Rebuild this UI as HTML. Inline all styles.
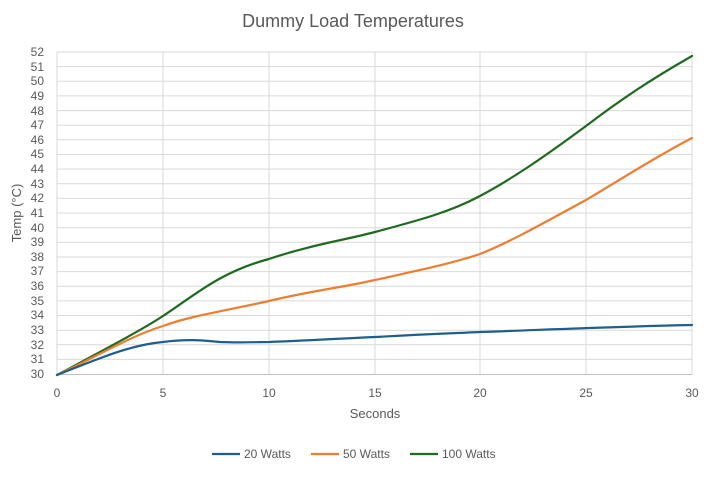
<!DOCTYPE html>
<html><head><meta charset="utf-8"><style>
body{margin:0;background:#fff;}
svg text{font-family:"Liberation Sans",sans-serif;fill:#595959;}
</style></head><body>
<svg width="706" height="472" viewBox="0 0 706 472" xmlns="http://www.w3.org/2000/svg">
<rect width="706" height="472" fill="#fff"/>
<text x="353" y="27" font-size="18" text-anchor="middle">Dummy Load Temperatures</text>
<g stroke="#d9d9d9" stroke-width="1">
<line x1="57" y1="52" x2="692" y2="52"/><line x1="57" y1="66.6" x2="692" y2="66.6"/><line x1="57" y1="81.3" x2="692" y2="81.3"/><line x1="57" y1="95.9" x2="692" y2="95.9"/><line x1="57" y1="110.6" x2="692" y2="110.6"/><line x1="57" y1="125.2" x2="692" y2="125.2"/><line x1="57" y1="139.8" x2="692" y2="139.8"/><line x1="57" y1="154.5" x2="692" y2="154.5"/><line x1="57" y1="169.1" x2="692" y2="169.1"/><line x1="57" y1="183.8" x2="692" y2="183.8"/><line x1="57" y1="198.4" x2="692" y2="198.4"/><line x1="57" y1="213" x2="692" y2="213"/><line x1="57" y1="227.7" x2="692" y2="227.7"/><line x1="57" y1="242.3" x2="692" y2="242.3"/><line x1="57" y1="257" x2="692" y2="257"/><line x1="57" y1="271.6" x2="692" y2="271.6"/><line x1="57" y1="286.2" x2="692" y2="286.2"/><line x1="57" y1="300.9" x2="692" y2="300.9"/><line x1="57" y1="315.5" x2="692" y2="315.5"/><line x1="57" y1="330.2" x2="692" y2="330.2"/><line x1="57" y1="344.8" x2="692" y2="344.8"/><line x1="57" y1="359.4" x2="692" y2="359.4"/>
<line x1="57" y1="52" x2="57" y2="374"/><line x1="163" y1="52" x2="163" y2="374"/><line x1="269" y1="52" x2="269" y2="374"/><line x1="375" y1="52" x2="375" y2="374"/><line x1="480" y1="52" x2="480" y2="374"/><line x1="586" y1="52" x2="586" y2="374"/><line x1="692" y1="52" x2="692" y2="374"/>
</g>
<line x1="57" y1="374.5" x2="692" y2="374.5" stroke="#bfbfbf"/>
<g font-size="12" text-anchor="end">
<text x="44" y="56">52</text><text x="44" y="71">51</text><text x="44" y="85">50</text><text x="44" y="100">49</text><text x="44" y="115">48</text><text x="44" y="129">47</text><text x="44" y="144">46</text><text x="44" y="158">45</text><text x="44" y="173">44</text><text x="44" y="188">43</text><text x="44" y="202">42</text><text x="44" y="217">41</text><text x="44" y="232">40</text><text x="44" y="246">39</text><text x="44" y="261">38</text><text x="44" y="275">37</text><text x="44" y="290">36</text><text x="44" y="305">35</text><text x="44" y="319">34</text><text x="44" y="334">33</text><text x="44" y="349">32</text><text x="44" y="363">31</text><text x="44" y="378">30</text>
</g>
<g font-size="12" text-anchor="middle">
<text x="57" y="397">0</text><text x="163" y="397">5</text><text x="269" y="397">10</text><text x="375" y="397">15</text><text x="480" y="397">20</text><text x="586" y="397">25</text><text x="692" y="397">30</text>
<text x="375" y="418" font-size="13">Seconds</text>
</g>
<text transform="translate(21,213) rotate(-90)" font-size="13" text-anchor="middle">Temp (°C)</text>
<g fill="none" stroke-width="2.2" stroke-linejoin="round" stroke-linecap="round">
<path stroke="#1f6a1f" d="M57,375 C100,352 140,331 163,316 C195,295 220,272 269,259 C310,245 345,240 375,232 C420,220 450,212 480,196 C510,180 540,160 586,126 C620,100 650,80 692,56"/>
<path stroke="#ed7d31" d="M57,375 C90,360 130,336 163,326 C190,316 220,312 269,301 C310,291 345,287 375,280 C420,270 450,264 480,254 C510,242 540,225 586,200 C620,180 650,160 692,138"/>
<path stroke="#1f5f8b" d="M57,375 C100,358 130,345 163,342 C185,339 200,340 220,342 C240,343 255,342 269,342 C320,340 350,338 375,337 C430,334 460,333 480,332 C540,330 600,327 692,325"/>
</g>
<g font-size="12">
<line x1="212" y1="454" x2="240" y2="454" stroke="#1f5f8b" stroke-width="2.2"/><text x="244" y="458">20 Watts</text>
<line x1="311" y1="454" x2="339" y2="454" stroke="#ed7d31" stroke-width="2.2"/><text x="343" y="458">50 Watts</text>
<line x1="410" y1="454" x2="438" y2="454" stroke="#1f6a1f" stroke-width="2.2"/><text x="442" y="458">100 Watts</text>
</g>
</svg>
</body></html>
